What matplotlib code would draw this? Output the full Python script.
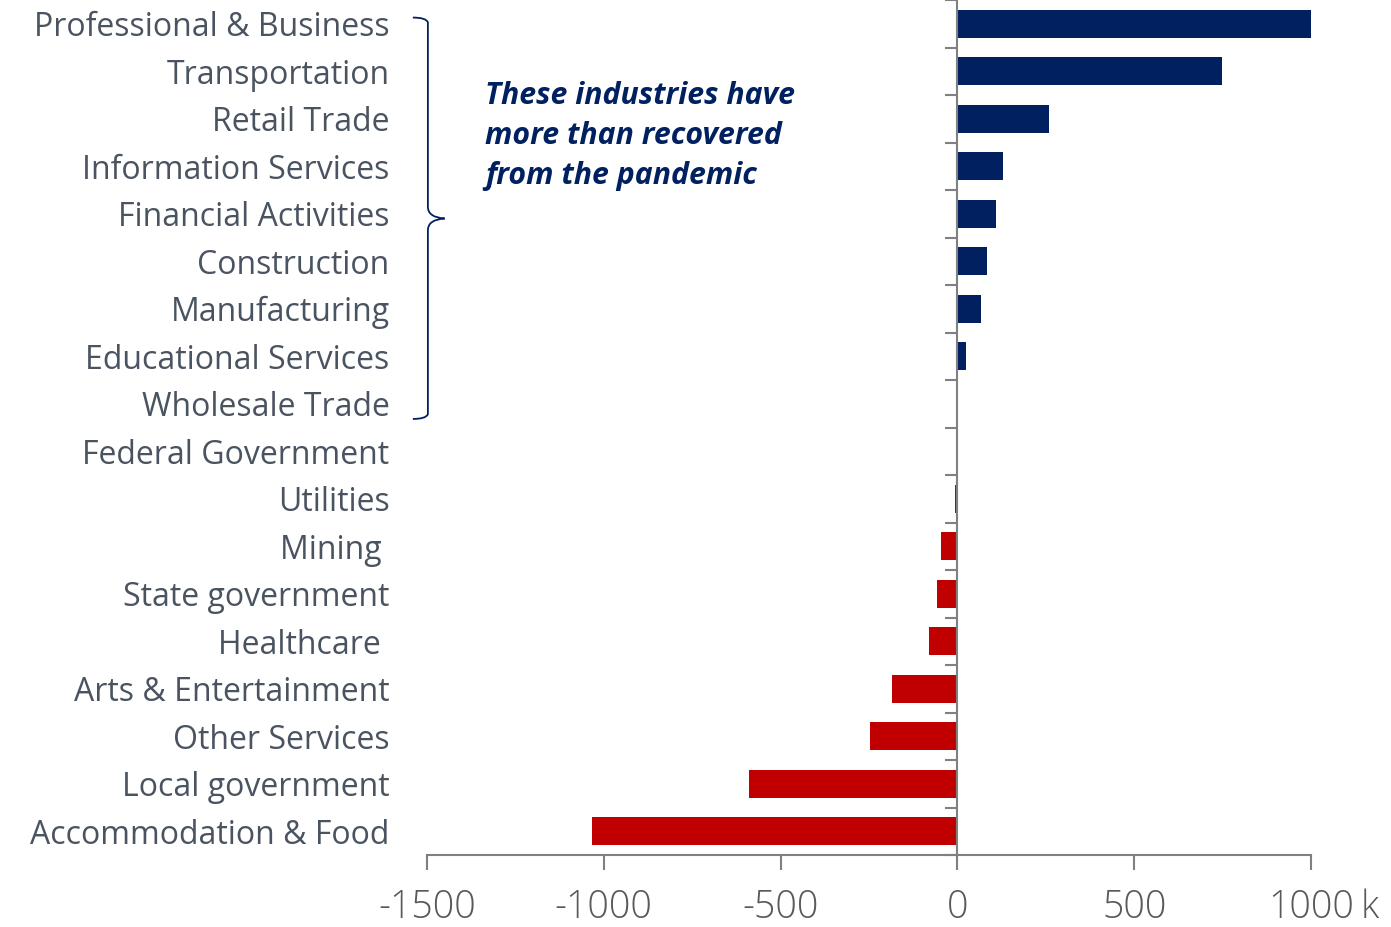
import matplotlib.pyplot as plt
from matplotlib.path import Path
from matplotlib.patches import PathPatch
import matplotlib.transforms as mtransforms

#------------------------------#
# DATA
#------------------------------#

industries = ['Professional & Business', 'Transportation', 'Retail Trade',
              'Information Services', 'Financial Activities', 'Construction',
              'Manufacturing', 'Educational Services', 'Wholesale Trade',
              'Federal Government', 'Utilities', 'Mining ', 'State government',
              'Healthcare ', 'Arts & Entertainment', 'Other Services',
              'Local government', 'Accommodation & Food']
change_k = [1003, 747, 260, 128, 110, 85, 68, 25, 3,
            -1, -7, -45, -59, -79, -184, -246, -588, -1032]
xticks = [-1500, -1000, -500, 0, 500, 1000]
xtick_labels = ['-1500', '-1000', '-500', '0', '500', '1000']
note = 'These industries have\nmore than recovered\nfrom the pandemic'

NAVY = '#002060'
RED = '#C00000'
GREY = '#808080'
LABEL = '#4a5461'

#------------------------------#
# PLOT
#------------------------------#

fig = plt.figure(figsize=(13.91, 9.27), dpi=100)
ax = fig.add_axes([427/1391, 1 - 855/927, 884/1391, 855/927])

ypos = list(range(len(industries)))
colors = [NAVY if v >= 0 else RED for v in change_k]
ax.barh(ypos, change_k, height=0.58, color=colors)

ax.set_xlim(-1500, 1000)
ax.set_ylim(len(industries) - 0.5, -0.5)

# zero line with short ticks between categories
ax.axvline(0, color=GREY, lw=1.5, zorder=3)
bounds = [i - 0.5 for i in range(len(industries) + 1)]
tick_len = 12 * 2500 / 884
ax.hlines(bounds, -tick_len, 0, color=GREY, lw=1.5, zorder=3, clip_on=False)

for side in ['top', 'right', 'left']:
    ax.spines[side].set_visible(False)
ax.spines['bottom'].set_color(GREY)
ax.spines['bottom'].set_linewidth(1.5)

ax.set_yticks(ypos)
ax.set_yticklabels(industries, fontsize=23, color=LABEL, family='Open Sans')
ax.tick_params(axis='y', length=0, pad=27)

ax.set_xticks(xticks)
ax.set_xticklabels(xtick_labels, fontsize=27, color='#595959',
                   family='Open Sans', fontweight='light')
ax.tick_params(axis='x', length=11, width=1.5, color=GREY, pad=13)
ax.annotate('k', xy=(1000, 0), xycoords=('data', 'axes fraction'),
            xytext=(36, -38), textcoords='offset points', ha='left', va='center',
            fontsize=27, color='#595959', family='Open Sans', fontweight='light')

# right-facing brace grouping the industries that recovered
trans = mtransforms.blended_transform_factory(ax.transAxes, ax.transData)
x0, x1, xt = -0.016, 0.001, 0.020
top, mid, bot = -0.13, 4.1, 8.32
verts = [(x0, top), (x1 - 0.002, top), (x1, top + 0.1), (x1, mid - 0.25),
         (x1, mid - 0.02), (xt, mid), (x1, mid + 0.02), (x1, mid + 0.25),
         (x1, bot - 0.1), (x1 - 0.002, bot), (x0, bot)]
codes = [Path.MOVETO, Path.CURVE3, Path.CURVE3, Path.LINETO,
         Path.CURVE3, Path.CURVE3, Path.CURVE3, Path.CURVE3,
         Path.LINETO, Path.CURVE3, Path.CURVE3]
ax.add_patch(PathPatch(Path(verts, codes), transform=trans, fill=False,
                       edgecolor=NAVY, lw=1.3, clip_on=False))

ax.text(0.066, 0.905, note, transform=ax.transAxes, ha='left', va='top',
        fontsize=21.8, color=NAVY, fontweight='bold', fontstyle='italic',
        family='Open Sans', linespacing=1.43)

fig.savefig('out.png', dpi=100)
